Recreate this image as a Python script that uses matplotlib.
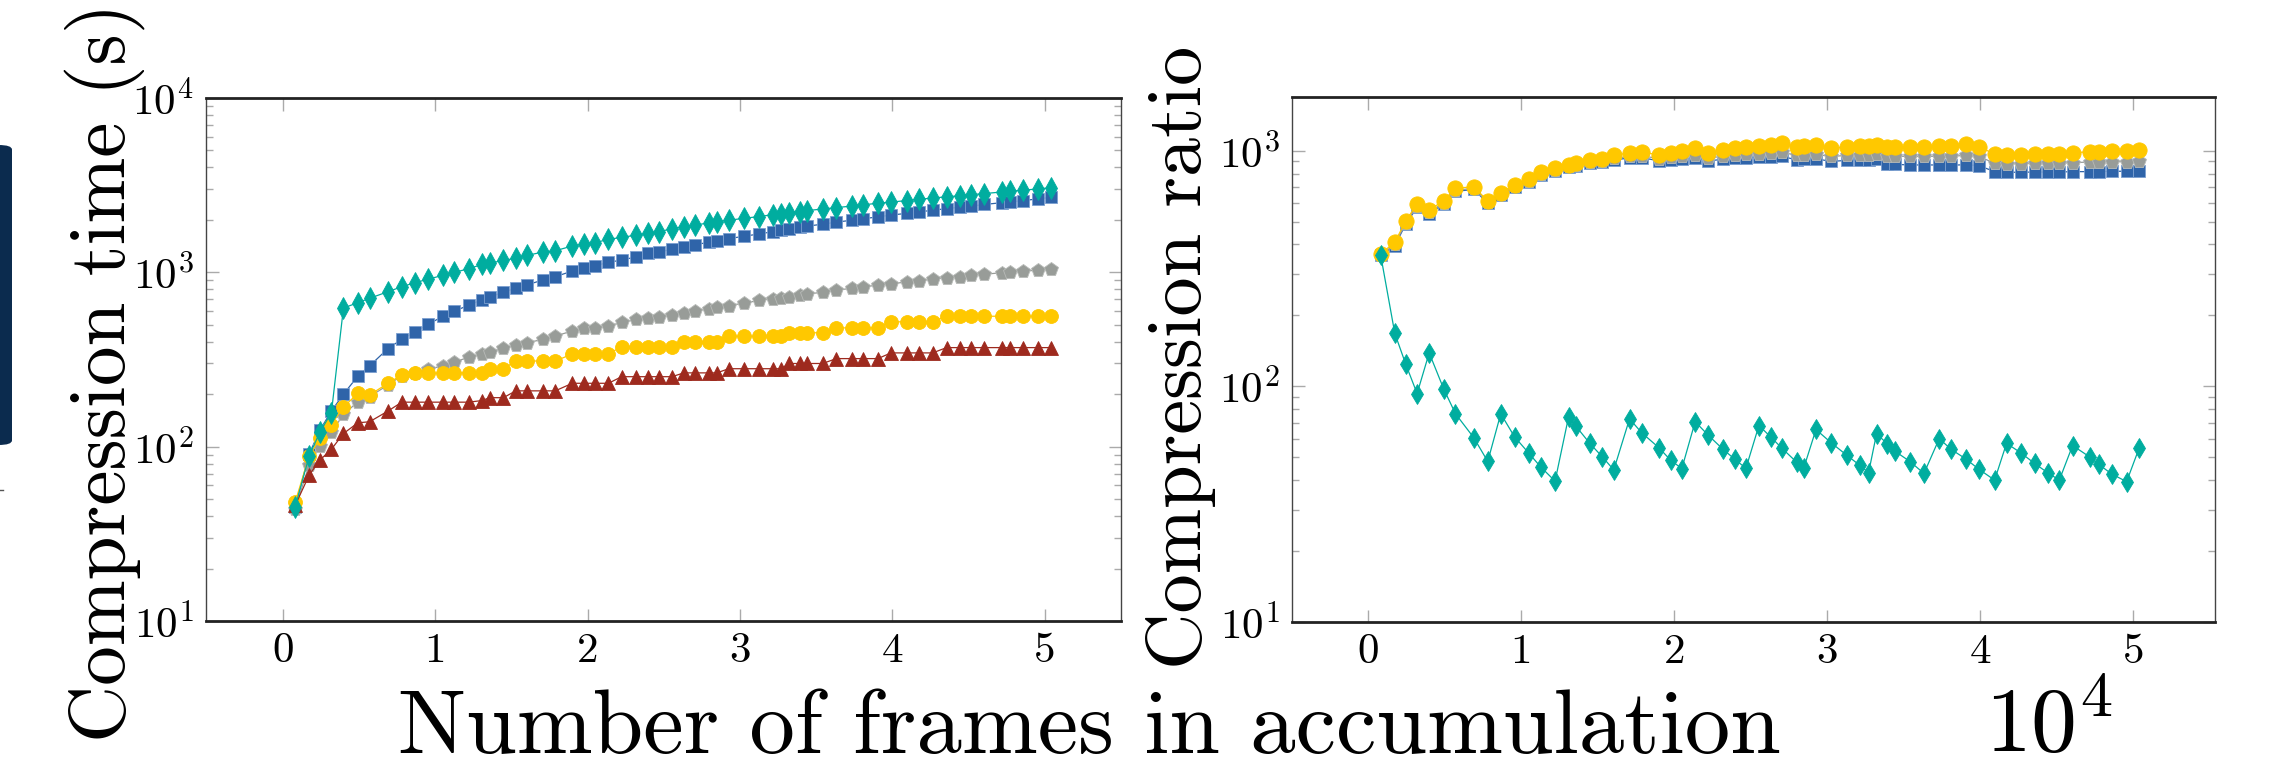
import matplotlib
matplotlib.use('Agg')
import matplotlib.pyplot as plt
from matplotlib.ticker import FixedLocator, LogLocator, NullFormatter, FuncFormatter
from matplotlib.patches import FancyBboxPatch
from matplotlib.lines import Line2D
import numpy as np

plt.rcParams['font.family'] = 'cmr10'
plt.rcParams['mathtext.fontset'] = 'cm'
plt.rcParams['axes.unicode_minus'] = False
plt.rcParams['axes.formatter.use_mathtext'] = True

# ---------------- data (x in units of 10^4 frames) ----------------
frames_e4 = [0.080, 0.172, 0.244, 0.318, 0.397, 0.492, 0.569, 0.689, 0.780, 0.865,
             0.955, 1.050, 1.125, 1.220, 1.308, 1.356, 1.447, 1.528, 1.604, 1.707,
             1.787, 1.899, 1.977, 2.049, 2.136, 2.223, 2.319, 2.396, 2.468, 2.553,
             2.631, 2.705, 2.799, 2.847, 2.926, 3.024, 3.126, 3.213, 3.270, 3.322,
             3.392, 3.442, 3.542, 3.632, 3.732, 3.810, 3.904, 3.991, 4.094, 4.172,
             4.264, 4.355, 4.441, 4.517, 4.604, 4.717, 4.774, 4.859, 4.957, 5.040]

# compression time (s)
time_teal = [45, 88.5, 122, 156.6, 624, 670, 710, 774, 827, 871,
             915, 961, 1000, 1049, 1112, 1126, 1172, 1203, 1252, 1308,
             1330, 1416, 1453, 1479, 1547, 1586, 1636, 1673, 1710, 1778,
             1830, 1870, 1920, 1950, 1990, 2040, 2090, 2140, 2170, 2200,
             2230, 2260, 2310, 2350, 2400, 2440, 2490, 2530, 2580, 2620,
             2670, 2710, 2750, 2790, 2830, 2890, 2920, 2960, 3010, 3060]
time_blue = [45, 90.8, 125, 160, 200, 254, 291, 365, 413, 455,
             504, 560, 598, 649, 697, 719, 771, 809, 849, 904,
             944, 1017, 1054, 1091, 1141, 1176, 1227, 1284, 1308, 1355,
             1400, 1440, 1490, 1520, 1560, 1610, 1660, 1710, 1740, 1770,
             1810, 1840, 1890, 1940, 1990, 2030, 2080, 2130, 2180, 2220,
             2270, 2320, 2360, 2400, 2450, 2510, 2540, 2580, 2640, 2690]
time_grey = [44, 78.5, 101, 121, 153, 181, 193.5, 226, 255, 266,
             278, 291, 307, 325, 340, 351, 366, 383, 394.5, 413,
             431, 461, 477, 481, 492, 516, 537, 549, 557, 569,
             585, 600, 620, 630, 645, 665, 690, 705, 715, 725,
             740, 750, 770, 790, 810, 825, 845, 860, 880, 895,
             915, 930, 945, 960, 975, 995, 1005, 1015, 1030, 1040]
time_yellow = [48, 88.5, 112, 134, 169, 202, 198, 231, 258, 264,
               264, 264, 264, 266, 266, 278, 280, 310, 310, 310,
               310, 340, 340, 340, 340, 375, 375, 375, 375, 375,
               400, 400, 400, 400, 430, 430, 430, 430, 430, 450,
               450, 450, 450, 480, 480, 480, 480, 520, 520, 520,
               520, 560, 560, 560, 560, 560, 560, 560, 560, 560]
time_red = [46, 68.7, 84, 96.6, 119, 137, 139, 160, 180, 180,
            180, 180, 180, 180, 184, 191, 191, 209, 209, 209,
            209, 231, 231, 231, 231, 252, 252, 252, 252, 252,
            265, 265, 265, 265, 280, 280, 280, 280, 280, 300,
            300, 300, 300, 320, 320, 320, 320, 345, 345, 345,
            345, 370, 370, 370, 370, 370, 370, 370, 370, 370]

# compression ratio
ratio_teal = [360, 168, 124, 93.2, 138.7, 97.5, 76.5, 60.5, 48.0, 76.5,
              61.1, 51.9, 45.6, 39.6, 74.0, 67.8, 57.3, 50.3, 44.2, 72.8,
              63.5, 54.9, 48.5, 44.8, 70.8, 61.9, 54.0, 49.0, 44.9, 68.2,
              60.9, 54.5, 47.7, 45.2, 65.6, 57.7, 51.1, 46.2, 43.0, 62.9,
              57.1, 53.1, 47.9, 42.7, 60.0, 54.0, 49.3, 44.5, 40.0, 57.3,
              52.3, 47.1, 43.0, 40.0, 56.1, 50.1, 46.7, 42.5, 39.4, 54.9]
ratio_blue = [360, 395, 488, 575, 540, 595, 672, 685, 598, 648,
              700, 740, 790, 822, 850, 862, 885, 895, 915, 930,
              935, 905, 915, 925, 935, 905, 920, 930, 935, 940,
              940, 945, 915, 918, 925, 900, 910, 912, 915, 920,
              880, 875, 870, 870, 870, 868, 872, 865, 815, 810,
              810, 812, 812, 812, 815, 815, 815, 818, 818, 820]
ratio_grey = [362, 400, 495, 582, 548, 602, 680, 692, 604, 654,
              706, 746, 798, 830, 858, 870, 895, 905, 928, 945,
              952, 925, 938, 950, 962, 930, 948, 958, 965, 972,
              975, 985, 955, 958, 965, 945, 955, 958, 962, 968,
              950, 948, 945, 945, 948, 948, 955, 945, 885, 880,
              880, 885, 885, 885, 890, 895, 895, 898, 898, 900]
ratio_yellow = [365, 409, 504, 594, 560, 614, 693, 703, 612, 664,
                715, 755, 809, 841, 871, 883, 912, 924, 955, 980,
                990, 958, 980, 999, 1023, 980, 1006, 1023, 1039, 1049,
                1057, 1074, 1039, 1044, 1057, 1023, 1039, 1044, 1049, 1057,
                1039, 1039, 1039, 1039, 1044, 1044, 1066, 1039, 968, 958,
                958, 968, 968, 968, 980, 990, 990, 999, 999, 1006]

x_ticks = [0, 1, 2, 3, 4, 5]

C_TEAL = '#00ad9f'
C_BLUE = '#2f64a9'
C_GREY = '#989c98'
C_YELLOW = '#ffc800'
C_RED = '#9e2a1e'

W, H = 2276, 761
fig = plt.figure(figsize=(W / 100, H / 100), dpi=100)


def fx(px):
    return px / W


def fy(py):
    return 1 - py / H


ax1 = fig.add_axes([fx(206), fy(621), fx(1121) - fx(206), fy(98) - fy(621)])
ax2 = fig.add_axes([fx(1292), fy(622), fx(2215) - fx(1292), fy(97) - fy(622)])

lw = 0.9
ax1.plot(frames_e4, time_blue, color=C_BLUE, lw=lw, marker='s', ms=8.5,
         mec='#7b9fd0', mew=0.6, zorder=3)
ax1.plot(frames_e4, time_grey, color=C_GREY, lw=lw, marker='p', ms=10,
         mec='#b8bbb8', mew=0.6, zorder=3)
ax1.plot(frames_e4, time_yellow, color=C_YELLOW, lw=lw, marker='o', ms=10,
         mec=C_YELLOW, mew=0.6, zorder=3)
ax1.plot(frames_e4, time_red, color=C_RED, lw=lw, marker='^', ms=10,
         mec=C_RED, mew=0.6, zorder=3)
ax1.plot(frames_e4, time_teal, color=C_TEAL, lw=lw, marker='d', ms=11,
         mec=C_TEAL, mew=0.6, zorder=4)

ax2.plot(frames_e4, ratio_blue, color=C_BLUE, lw=lw, marker='s', ms=9,
         mec='#7b9fd0', mew=0.6, zorder=3)
ax2.plot(frames_e4, ratio_grey, color=C_GREY, lw=lw, marker='p', ms=10,
         mec='#b8bbb8', mew=0.6, zorder=3)
ax2.plot(frames_e4, ratio_yellow, color=C_YELLOW, lw=lw, marker='o', ms=11,
         mec=C_YELLOW, mew=0.6, zorder=3)
ax2.plot(frames_e4, ratio_teal, color=C_TEAL, lw=lw, marker='d', ms=10.5,
         mec=C_TEAL, mew=0.6, zorder=4)

fmt = FuncFormatter(lambda v, p: r'$\mathrm{10^{%d}}$' % int(round(np.log10(v))))

for ax, xlim, ylim, yt in [(ax1, (-0.505, 5.50), (10, 1e4), [10, 100, 1000, 10000]),
                           (ax2, (-0.50, 5.535), (10, 1690), [10, 100, 1000])]:
    ax.set_yscale('log')
    ax.set_xlim(*xlim)
    ax.set_ylim(*ylim)
    ax.xaxis.set_major_locator(FixedLocator(x_ticks))
    ax.set_xticklabels([str(t) for t in x_ticks])
    ax.yaxis.set_major_locator(FixedLocator(yt))
    ax.yaxis.set_major_formatter(fmt)
    ax.yaxis.set_minor_locator(LogLocator(base=10, subs=np.arange(2, 10), numticks=20))
    ax.yaxis.set_minor_formatter(NullFormatter())
    ax.tick_params(which='both', direction='in', top=True, right=True,
                   color='#aaaaaa', width=1.0, labelsize=31, labelcolor='black')
    ax.tick_params(which='major', length=9)
    ax.tick_params(which='minor', length=5)
    ax.tick_params(axis='x', pad=8)
    ax.tick_params(axis='y', pad=9)
    for s in ['top', 'bottom']:
        ax.spines[s].set_linewidth(2.0)
        ax.spines[s].set_color('#222222')
    for s in ['left', 'right']:
        ax.spines[s].set_linewidth(1.0)
        ax.spines[s].set_color('#444444')

# axis labels
fig.text(fx(125), fy(372), 'Compression time (s)', rotation=90, rotation_mode='anchor',
         ha='center', va='baseline', fontsize=57)
fig.text(fx(1201), fy(357), 'Compression ratio', rotation=90, rotation_mode='anchor',
         ha='center', va='baseline', fontsize=56.5)
fig.text(fx(1089), fy(753), 'Number of frames in accumulation', ha='center',
         va='baseline', fontsize=65.5)
fig.text(fx(2049), fy(753), r'$\mathrm{10^{4}}$', ha='center', va='baseline', fontsize=66)

# cut-off navy element on the left edge
fig.patches.append(FancyBboxPatch((fx(-40), fy(445)), fx(52), fy(145) - fy(445),
                                  boxstyle='round,pad=0,rounding_size=0.006',
                                  transform=fig.transFigure, facecolor='#0b2b4e',
                                  edgecolor='none', zorder=1))
fig.lines.append(Line2D([fx(0), fx(3)], [fy(490), fy(490)], transform=fig.transFigure,
                        color='#555555', lw=1.0))

fig.savefig('out.png', dpi=100)
